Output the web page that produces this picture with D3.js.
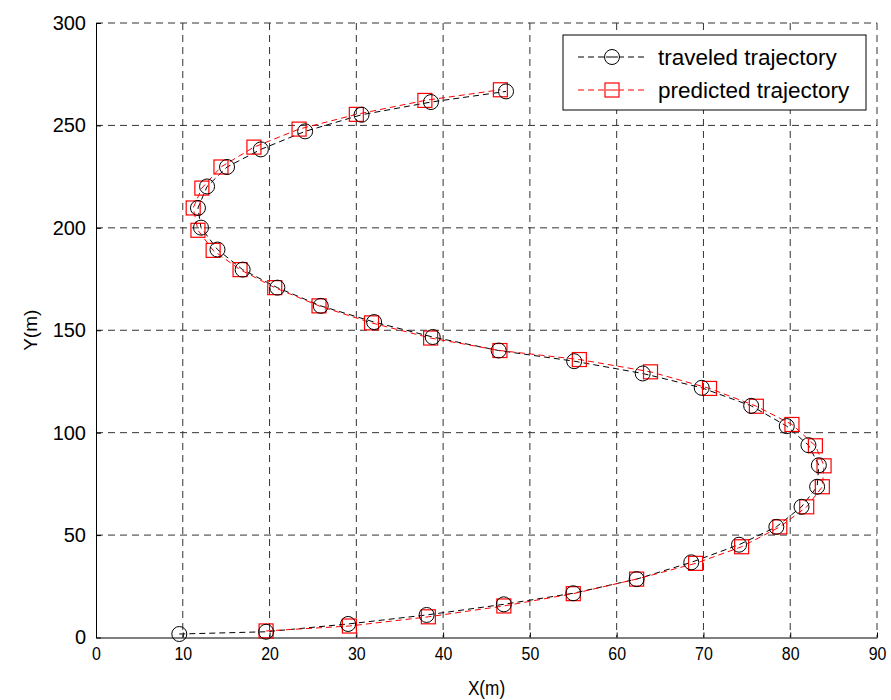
<!DOCTYPE html>
<html lang="en">
<head>
  <meta charset="UTF-8">
  <title>Traveled vs predicted trajectory</title>
  <script src="https://cdnjs.cloudflare.com/ajax/libs/d3/7.8.5/d3.min.js"></script>
  <style>
    body { margin: 0; padding: 0; background: #fff; }
    svg { display: block; font-family: "Liberation Sans", Arial, sans-serif; }
  </style>
</head>
<body>
<svg id="chart" width="891" height="700"></svg>
<script>
  // traveled trajectory (circles)
  const travelX = [9.6, 19.6, 29.05, 38.1, 47.0, 55.0, 62.3, 68.6, 74.1, 78.4, 81.3, 83.1, 83.3, 82.1, 79.6,
                   75.5, 69.8, 63.0, 55.1, 46.4, 38.8, 32.05, 25.9, 20.9, 16.9, 14.0, 12.1, 11.75, 12.8,
                   15.1, 19.0, 24.1, 30.6, 38.6, 47.25];
  const travelY = [1.7, 2.8, 6.6, 11.0, 16.2, 21.6, 28.5, 36.7, 45.3, 54.0, 63.8, 73.6, 84.1, 93.9, 103.2,
                   113.1, 121.9, 128.9, 134.9, 140.1, 146.7, 154.0, 161.9, 170.8, 179.6, 189.4, 200.1, 209.7, 220.2,
                   229.7, 238.3, 247.1, 255.2, 261.4, 266.6];
  // predicted trajectory (squares)
  const predX = [19.6, 29.2, 38.3, 47.0, 55.0, 62.3, 69.1, 74.4, 78.8, 81.9, 83.7, 83.9, 82.9, 80.2,
                 76.1, 70.7, 63.9, 55.7, 46.55, 38.56, 31.75, 25.7, 20.6, 16.6, 13.5, 11.75, 11.2, 12.2,
                 14.4, 18.2, 23.4, 30.0, 37.9, 46.6];
  const predY = [3.2, 5.6, 10.1, 15.4, 21.4, 28.5, 36.2, 44.3, 54.0, 63.8, 73.6, 83.8, 93.6, 104.0,
                 112.9, 121.6, 129.7, 135.7, 140.1, 146.2, 153.6, 161.9, 170.8, 179.6, 189.0, 198.8, 209.7, 219.4,
                 229.7, 239.4, 248.2, 255.4, 262.2, 267.4];

  const xTicks = [0, 10, 20, 30, 40, 50, 60, 70, 80, 90];
  const yTicks = [0, 50, 100, 150, 200, 250, 300];
  const seriesNames = ["traveled trajectory", "predicted trajectory"];

  const svg = d3.select("#chart");
  const margin = { left: 96, right: 14, top: 23, bottom: 62.5 };
  const width = +svg.attr("width"), height = +svg.attr("height");

  const x = d3.scaleLinear().domain([0, 90]).range([margin.left, width - margin.right]);
  const y = d3.scaleLinear().domain([0, 300]).range([height - margin.bottom, margin.top]);

  // grid
  const grid = svg.append("g").attr("stroke", "#333").attr("stroke-width", 1).attr("stroke-dasharray", "7,5");
  grid.selectAll(".gx").data(xTicks.slice(1)).join("line")
    .attr("x1", d => x(d)).attr("x2", d => x(d))
    .attr("y1", y(300)).attr("y2", y(0));
  grid.selectAll(".gy").data(yTicks.slice(1)).join("line")
    .attr("y1", d => y(d)).attr("y2", d => y(d))
    .attr("x1", x(0)).attr("x2", x(90));

  // axes
  const xAxis = svg.append("g")
    .attr("transform", `translate(0,${y(0)})`)
    .call(d3.axisBottom(x).tickValues(xTicks).tickSizeInner(-5).tickSizeOuter(0).tickPadding(9));
  const yAxis = svg.append("g")
    .attr("transform", `translate(${x(0)},0)`)
    .call(d3.axisLeft(y).tickValues(yTicks).tickSizeInner(-5).tickSizeOuter(0).tickPadding(10));
  [xAxis, yAxis].forEach(a => {
    a.select(".domain").attr("stroke", "#000");
    a.selectAll(".tick line").attr("stroke", "#000");
    a.selectAll("text").attr("fill", "#000")
      .attr("font-family", "'Liberation Sans', Arial, sans-serif");
  });
  xAxis.selectAll("text").attr("font-size", 19).attr("transform", "scale(0.84,1)");
  yAxis.selectAll("text").attr("font-size", 20);

  svg.append("text")
    .attr("x", 0).attr("y", 0)
    .attr("transform", `translate(${x(45)},${height - 5}) scale(0.86,1)`)
    .attr("text-anchor", "middle").attr("font-size", 20).text("X(m)");
  svg.append("text")
    .attr("transform", `translate(37,${y(150)}) rotate(-90)`)
    .attr("text-anchor", "middle").attr("font-size", 19).text("Y(m)");

  const line = d3.line().x(d => x(d[0])).y(d => y(d[1]));
  const travel = travelX.map((v, i) => [v, travelY[i]]);
  const pred = predX.map((v, i) => [v, predY[i]]);

  svg.append("path").datum(travel).attr("d", line)
    .attr("fill", "none").attr("stroke", "#000").attr("stroke-width", 1).attr("stroke-dasharray", "6,4");
  svg.append("path").datum(pred).attr("d", line)
    .attr("fill", "none").attr("stroke", "#ff0000").attr("stroke-width", 1).attr("stroke-dasharray", "6,4");

  const sq = 14, r = 7.5;
  svg.append("g").selectAll("rect").data(pred).join("rect")
    .attr("x", d => x(d[0]) - sq / 2).attr("y", d => y(d[1]) - sq / 2)
    .attr("width", sq).attr("height", sq)
    .attr("fill", "none").attr("stroke", "#ff0000").attr("stroke-width", 1.2);
  svg.append("g").selectAll("circle").data(travel).join("circle")
    .attr("cx", d => x(d[0])).attr("cy", d => y(d[1])).attr("r", r)
    .attr("fill", "none").attr("stroke", "#000").attr("stroke-width", 1);

  // legend
  const lg = svg.append("g").attr("transform", "translate(563,35)");
  lg.append("rect").attr("width", 303).attr("height", 75)
    .attr("fill", "#fff").attr("stroke", "#000").attr("stroke-width", 1);
  const colors = ["#000", "#ff0000"];
  seriesNames.forEach((name, i) => {
    const cy = 22 + i * 33;
    lg.append("line").attr("x1", 15).attr("x2", 84).attr("y1", cy).attr("y2", cy)
      .attr("stroke", colors[i]).attr("stroke-dasharray", "6,4");
    if (i === 0) {
      lg.append("circle").attr("cx", 49).attr("cy", cy).attr("r", r)
        .attr("fill", "#fff").attr("stroke", "#000");
    } else {
      lg.append("rect").attr("x", 49 - sq / 2).attr("y", cy - sq / 2).attr("width", sq).attr("height", sq)
        .attr("fill", "#fff").attr("stroke", "#ff0000").attr("stroke-width", 1.2);
    }
    lg.append("line").attr("x1", 43).attr("x2", 55).attr("y1", cy).attr("y2", cy).attr("stroke", colors[i]);
    lg.append("text").attr("x", 95).attr("y", cy).attr("dy", "0.35em")
      .attr("font-size", 22.5).attr("fill", "#000").text(name);
  });
</script>
</body>
</html>
